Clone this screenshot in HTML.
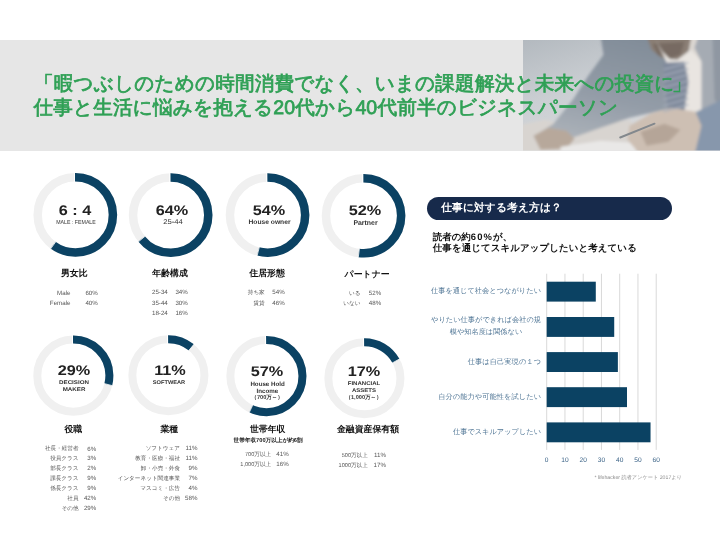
<!DOCTYPE html>
<html lang="ja"><head><meta charset="utf-8"><title>Reader profile</title>
<style>
html,body{margin:0;padding:0}
body{width:720px;height:540px;position:relative;overflow:hidden;background:#fff;text-rendering:geometricPrecision;font-family:"Liberation Sans",sans-serif;color:#222}
.abs{position:absolute}
.t{position:absolute;white-space:nowrap;line-height:1}
.j{text-align:justify;text-align-last:justify;white-space:nowrap}
.c{transform:translateX(-50%)}
.ttl{color:#2fa055;font-size:19.6px;-webkit-text-stroke:0.75px #2fa055}
.num{font-weight:bold;font-size:14px;color:#222;transform:translateX(-50%) scaleX(1.16)}
.h{font-weight:bold;font-size:8.9px;color:#111;transform:translateX(-50%)}
.s{font-size:6.2px;color:#555}
.lab{color:#4f7595;font-size:7.2px}
.tick{color:#3a6286;font-size:6.6px;transform:translateX(-50%)}
#L{position:absolute;left:0;top:0;width:720px;height:540px;will-change:transform}
</style></head><body><div id="L">
<div class="abs" style="left:0;top:40.3px;width:720px;height:110.4px;background:#e6e6e6"></div>
<svg class="abs" style="left:522.5px;top:40.3px" width="197.5" height="110.4" viewBox="0 0 197.5 110.4">
<defs>
<linearGradient id="bg" x1="0" y1="0" x2="0.6" y2="1">
<stop offset="0" stop-color="#b3b9bf"/><stop offset="0.45" stop-color="#cbcfd3"/><stop offset="1" stop-color="#dcdddf"/>
</linearGradient>
<linearGradient id="suit" x1="0.6" y1="0" x2="0.3" y2="1">
<stop offset="0" stop-color="#828d99"/><stop offset="0.55" stop-color="#939ca7"/><stop offset="1" stop-color="#adb3ba"/>
</linearGradient>
<filter id="bl" x="-10%" y="-10%" width="120%" height="120%"><feGaussianBlur stdDeviation="1.8"/></filter>
<filter id="bl2" x="-10%" y="-30%" width="120%" height="160%"><feGaussianBlur stdDeviation="0.5"/></filter>
<clipPath id="cp"><rect x="0" y="0" width="197.5" height="110.4"/></clipPath>
</defs>
<g clip-path="url(#cp)">
<rect x="0" y="0" width="197.5" height="110.4" fill="url(#bg)"/>
<g filter="url(#bl)">
<polygon fill="#d8d4d0" points="-7.5,85.7 22.5,79.7 52.5,87.7 77.5,83.7 107.5,79.7 117.5,114.7 -7.5,114.7"/>
<polygon fill="url(#suit)" points="77.5,-4.3 132.5,-4.3 143.5,21.7 141.5,40.7 148.5,67.7 128.5,72.7 106.5,77.7 89.5,83.7 77.5,87.7 52.5,96.7 25.5,102.7 10.5,96.7 30.5,83.7 50.5,58.7 64.5,36.7 80.5,14.7"/>
<polygon fill="#b7a89b" points="10.5,95.7 25.5,87.7 43.5,90.7 51.5,98.7 43.5,108.7 17.5,109.7"/>
<polygon fill="#e9e8e7" points="37.5,106.7 77.5,100.7 111.5,102.7 113.5,114.7 37.5,114.7"/>
<polygon fill="#dcd7d2" points="161.5,-4.3 181.5,-4.3 179.5,21.7 167.5,11.7"/>
<polygon fill="#8a7e74" points="123.5,-4.3 168.5,-4.3 165.5,11.7 154.5,19.7 138.5,17.7 128.5,9.7"/>
<polygon fill="#776b62" points="129.5,3.7 161.5,1.7 157.5,14.7 145.5,18.7 134.5,14.7"/>
<polygon fill="#e9e5e1" points="132.5,-0.3 139.5,11.7 147.5,19.7 154.5,19.7 167.5,9.7 179.5,21.7 179.5,71.7 167.5,72.7 148.5,68.7 141.5,40.7 143.5,21.7"/>
<polygon fill="#7f899b" points="140.5,22.7 161.5,21.7 165.5,41.7 161.5,70.7 145.5,70.7 141.5,45.7"/>
<polygon fill="#a5abb3" points="175.5,-4.3 202.5,-4.3 202.5,73.7 178.5,70.7 178.5,21.7 171.5,7.7"/>
<polygon fill="#8f97a2" points="189.5,-4.3 202.5,-4.3 202.5,69.7 191.5,59.7"/>
<polygon fill="#8797ac" points="171.5,72.7 202.5,57.7 202.5,114.7 165.5,114.7 175.5,87.7"/>
<polygon fill="#cdbfb3" points="106.5,85.7 127.5,73.7 148.5,67.7 172.5,71.7 178.5,85.7 171.5,114.7 117.5,114.7 104.5,99.7"/>
<polygon fill="#b5a598" points="117.5,91.7 141.5,83.7 157.5,89.7 145.5,101.7 123.5,105.7"/>
<line x1="140.5" y1="29.7" x2="165.5" y2="22.7" stroke="#a7afbc" stroke-width="1.2"/>
<line x1="140.5" y1="35.7" x2="165.5" y2="28.7" stroke="#a7afbc" stroke-width="1.2"/>
<line x1="140.5" y1="41.7" x2="165.5" y2="34.7" stroke="#a7afbc" stroke-width="1.2"/>
<line x1="140.5" y1="47.7" x2="165.5" y2="40.7" stroke="#a7afbc" stroke-width="1.2"/>
<line x1="140.5" y1="53.7" x2="165.5" y2="46.7" stroke="#a7afbc" stroke-width="1.2"/>
<line x1="140.5" y1="59.7" x2="165.5" y2="52.7" stroke="#a7afbc" stroke-width="1.2"/>
<line x1="140.5" y1="65.7" x2="165.5" y2="58.7" stroke="#a7afbc" stroke-width="1.2"/>
<line x1="140.5" y1="71.7" x2="165.5" y2="64.7" stroke="#a7afbc" stroke-width="1.2"/>
</g>
<line x1="97.2" y1="97.5" x2="131.5" y2="83.7" stroke="#83888d" stroke-width="2" stroke-linecap="round" filter="url(#bl2)"/>
</g></svg>

<div class="t ttl j" style="left:34px;top:74.6px;width:660px">「暇つぶしのための時間消費でなく、いまの課題解決と未来への投資に<span style="position:relative;left:-2.5px">」</span></div>
<div class="t ttl j" style="left:33.5px;top:98.6px;width:584.5px">仕事と生活に悩みを抱える20代から40代前半のビジネスパーソン</div>
<svg class="abs" style="left:0;top:0" width="720" height="540" viewBox="0 0 720 540">
<circle cx="75.3" cy="214.9" r="37.60" fill="none" stroke="#f0f0f0" stroke-width="8.5"/>
<circle cx="75.3" cy="214.9" r="37.60" fill="none" stroke="#0b4263" stroke-width="8.5" stroke-dasharray="142.10 236.25" transform="rotate(-90.53 75.3 214.9)"/>
<rect x="73.95" y="172.55" width="1" height="9.5" fill="#fff"/>
<line x1="55.99" y1="241.48" x2="50.41" y2="249.16" stroke="#fff" stroke-width="0.8"/>
<circle cx="170.65" cy="215.1" r="37.60" fill="none" stroke="#f0f0f0" stroke-width="8.5"/>
<circle cx="170.65" cy="215.1" r="37.60" fill="none" stroke="#0b4263" stroke-width="8.5" stroke-dasharray="151.55 236.25" transform="rotate(-90.53 170.65 215.1)"/>
<rect x="169.30" y="172.75" width="1" height="9.5" fill="#fff"/>
<line x1="145.34" y1="236.04" x2="138.02" y2="242.09" stroke="#fff" stroke-width="0.8"/>
<circle cx="267.55" cy="215.1" r="37.60" fill="none" stroke="#f0f0f0" stroke-width="8.5"/>
<circle cx="267.55" cy="215.1" r="37.60" fill="none" stroke="#0b4263" stroke-width="8.5" stroke-dasharray="127.92 236.25" transform="rotate(-90.53 267.55 215.1)"/>
<rect x="266.20" y="172.75" width="1" height="9.5" fill="#fff"/>
<line x1="259.38" y1="246.92" x2="257.02" y2="256.12" stroke="#fff" stroke-width="0.8"/>
<circle cx="363.55" cy="215.75" r="37.60" fill="none" stroke="#f0f0f0" stroke-width="8.5"/>
<circle cx="363.55" cy="215.75" r="37.60" fill="none" stroke="#0b4263" stroke-width="8.5" stroke-dasharray="123.20 236.25" transform="rotate(-90.53 363.55 215.75)"/>
<rect x="362.20" y="173.40" width="1" height="9.5" fill="#fff"/>
<line x1="359.43" y1="248.34" x2="358.24" y2="257.77" stroke="#fff" stroke-width="0.8"/>
<circle cx="73.35" cy="375.65" r="36.05" fill="none" stroke="#f0f0f0" stroke-width="8.0"/>
<circle cx="73.35" cy="375.65" r="36.05" fill="none" stroke="#0b4263" stroke-width="8.0" stroke-dasharray="66.04 226.51" transform="rotate(-90.56 73.35 375.65)"/>
<rect x="72.00" y="335.10" width="1" height="9.0" fill="#fff"/>
<line x1="103.91" y1="383.50" x2="112.63" y2="385.73" stroke="#fff" stroke-width="0.8"/>
<circle cx="168.4" cy="375.2" r="36.05" fill="none" stroke="#f0f0f0" stroke-width="8.0"/>
<circle cx="168.4" cy="375.2" r="36.05" fill="none" stroke="#0b4263" stroke-width="8.0" stroke-dasharray="25.27 226.51" transform="rotate(-90.56 168.4 375.2)"/>
<rect x="167.05" y="334.65" width="1" height="9.0" fill="#fff"/>
<line x1="188.51" y1="350.89" x2="194.25" y2="343.96" stroke="#fff" stroke-width="0.8"/>
<circle cx="266.4" cy="376.1" r="36.05" fill="none" stroke="#f0f0f0" stroke-width="8.0"/>
<circle cx="266.4" cy="376.1" r="36.05" fill="none" stroke="#0b4263" stroke-width="8.0" stroke-dasharray="129.46 226.51" transform="rotate(-90.56 266.4 376.1)"/>
<rect x="265.05" y="335.55" width="1" height="9.0" fill="#fff"/>
<line x1="252.97" y1="404.65" x2="249.13" y2="412.79" stroke="#fff" stroke-width="0.8"/>
<circle cx="364.4" cy="378.3" r="36.05" fill="none" stroke="#f0f0f0" stroke-width="8.0"/>
<circle cx="364.4" cy="378.3" r="36.05" fill="none" stroke="#0b4263" stroke-width="8.0" stroke-dasharray="38.86 226.51" transform="rotate(-90.56 364.4 378.3)"/>
<rect x="363.05" y="337.75" width="1" height="9.0" fill="#fff"/>
<line x1="392.05" y1="363.10" x2="399.93" y2="358.76" stroke="#fff" stroke-width="0.8"/>
<rect x="546.20" y="273.7" width="1" height="176.2" fill="#d9d9d9"/>
<rect x="564.45" y="273.7" width="1" height="176.2" fill="#d9d9d9"/>
<rect x="582.70" y="273.7" width="1" height="176.2" fill="#d9d9d9"/>
<rect x="600.95" y="273.7" width="1" height="176.2" fill="#d9d9d9"/>
<rect x="619.20" y="273.7" width="1" height="176.2" fill="#d9d9d9"/>
<rect x="637.45" y="273.7" width="1" height="176.2" fill="#d9d9d9"/>
<rect x="655.70" y="273.7" width="1" height="176.2" fill="#d9d9d9"/>
<rect x="546.70" y="281.7" width="49.09" height="19.9" fill="#0b4263"/>
<rect x="546.70" y="317" width="67.52" height="19.9" fill="#0b4263"/>
<rect x="546.70" y="352.1" width="71.17" height="19.9" fill="#0b4263"/>
<rect x="546.70" y="387.2" width="80.30" height="19.9" fill="#0b4263"/>
<rect x="546.70" y="422.4" width="103.84" height="19.9" fill="#0b4263"/>
</svg>
<div class="t num" style="left:75.1px;top:202.6px">6 : 4</div>
<div class="t num" style="left:172.1px;top:202.6px">64%</div>
<div class="t num" style="left:269.2px;top:202.6px">54%</div>
<div class="t num" style="left:365px;top:203.0px">52%</div>
<div class="t num" style="left:74.2px;top:362.8px">29%</div>
<div class="t num" style="left:169.5px;top:362.8px">11%</div>
<div class="t num" style="left:267.1px;top:364.0px">57%</div>
<div class="t num" style="left:364.2px;top:364.0px">17%</div>
<div class="t " style="left:76.4px;top:220.65px;font-size:5.7px;font-weight:normal;color:#333;transform:translateX(-50%) scaleX(0.92)">MALE : FEMALE</div>
<div class="t " style="left:172.5px;top:219.30px;font-size:7px;font-weight:normal;color:#333;transform:translateX(-50%) scaleX(1.1)">25-44</div>
<div class="t " style="left:269.5px;top:220.45px;font-size:6.7px;font-weight:bold;color:#333;transform:translateX(-50%) scaleX(1.0)">House owner</div>
<div class="t " style="left:365.5px;top:220.75px;font-size:6.9px;font-weight:bold;color:#333;transform:translateX(-50%) scaleX(1.0)">Partner</div>
<div class="t " style="left:74.3px;top:381.40px;font-size:5.4px;font-weight:bold;color:#333;transform:translateX(-50%) scaleX(1.15)">DECISION</div>
<div class="t " style="left:74.3px;top:387.80px;font-size:5.4px;font-weight:bold;color:#333;transform:translateX(-50%) scaleX(1.15)">MAKER</div>
<div class="t " style="left:169.4px;top:381.30px;font-size:5.4px;font-weight:bold;color:#333;transform:translateX(-50%) scaleX(1.05)">SOFTWEAR</div>
<div class="t " style="left:267.6px;top:381.70px;font-size:6.2px;font-weight:bold;color:#333;transform:translateX(-50%) scaleX(1.0)">House Hold</div>
<div class="t " style="left:267.3px;top:388.80px;font-size:6.2px;font-weight:bold;color:#333;transform:translateX(-50%) scaleX(1.0)">Income</div>
<div class="t " style="left:267.2px;top:395.80px;font-size:5.6px;font-weight:bold;color:#333;transform:translateX(-50%) scaleX(1.0)">（700万～）</div>
<div class="t " style="left:364.1px;top:381.90px;font-size:5.4px;font-weight:bold;color:#333;transform:translateX(-50%) scaleX(1.12)">FINANCIAL</div>
<div class="t " style="left:364.1px;top:388.90px;font-size:5.4px;font-weight:bold;color:#333;transform:translateX(-50%) scaleX(1.12)">ASSETS</div>
<div class="t " style="left:363.6px;top:395.80px;font-size:5.6px;font-weight:bold;color:#333;transform:translateX(-50%) scaleX(1.0)">（1,000万～）</div>
<div class="t h" style="left:74.2px;top:269.15px">男女比</div>
<div class="t h" style="left:170px;top:269.15px">年齢構成</div>
<div class="t h" style="left:267px;top:269.25px">住居形態</div>
<div class="t h" style="left:367.1px;top:269.75px">パートナー</div>
<div class="t h" style="left:73.3px;top:425.05px">役職</div>
<div class="t h" style="left:169.3px;top:425.05px">業種</div>
<div class="t h" style="left:267.7px;top:425.05px">世帯年収</div>
<div class="t h" style="left:368px;top:425.05px">金融資産保有額</div>
<div class="t " style="left:268.1px;top:439.4px;font-size:5.65px;font-weight:bold;color:#111;transform:translateX(-50%)">世帯年収700万以上が約6割</div>
<div class="t s" style="right:649.5px;top:291.10px">Male</div>
<div class="t s" style="right:622.2px;top:291.10px">60%</div>
<div class="t s" style="right:649.5px;top:301.10px">Female</div>
<div class="t s" style="right:622.2px;top:301.10px">40%</div>
<div class="t s" style="right:552.2px;top:290.40px">25-34</div>
<div class="t s" style="right:532.2px;top:290.40px">34%</div>
<div class="t s" style="right:552.2px;top:300.60px">35-44</div>
<div class="t s" style="right:532.2px;top:300.60px">30%</div>
<div class="t s" style="right:552.2px;top:310.80px">18-24</div>
<div class="t s" style="right:532.2px;top:310.80px">16%</div>
<div class="t s" style="right:455.3px;top:291.30px;font-size:5.6px">持ち家</div>
<div class="t s" style="right:435.3px;top:290.40px">54%</div>
<div class="t s" style="right:455.3px;top:301.50px;font-size:5.6px">賃貸</div>
<div class="t s" style="right:435.3px;top:300.60px">46%</div>
<div class="t s" style="right:359.5px;top:292.00px;font-size:5.6px">いる</div>
<div class="t s" style="right:338.8px;top:291.10px">52%</div>
<div class="t s" style="right:359.5px;top:302.00px;font-size:5.6px">いない</div>
<div class="t s" style="right:338.8px;top:301.10px">48%</div>
<div class="t s" style="right:641.5px;top:447.40px;font-size:5.6px">社長・経営者</div>
<div class="t s" style="right:623.7px;top:446.50px">6%</div>
<div class="t s" style="right:641.5px;top:457.20px;font-size:5.6px">役員クラス</div>
<div class="t s" style="right:623.7px;top:456.30px">3%</div>
<div class="t s" style="right:641.5px;top:467.20px;font-size:5.6px">部長クラス</div>
<div class="t s" style="right:623.7px;top:466.30px">2%</div>
<div class="t s" style="right:641.5px;top:477.10px;font-size:5.6px">課長クラス</div>
<div class="t s" style="right:623.7px;top:476.20px">9%</div>
<div class="t s" style="right:641.5px;top:487.10px;font-size:5.6px">係長クラス</div>
<div class="t s" style="right:623.7px;top:486.20px">9%</div>
<div class="t s" style="right:641.5px;top:497.00px;font-size:5.6px">社員</div>
<div class="t s" style="right:623.7px;top:496.10px">42%</div>
<div class="t s" style="right:641.5px;top:507.00px;font-size:5.6px">その他</div>
<div class="t s" style="right:623.7px;top:506.10px">29%</div>
<div class="t s" style="right:540.0px;top:446.80px;font-size:5.6px">ソフトウェア</div>
<div class="t s" style="right:522.6px;top:445.90px">11%</div>
<div class="t s" style="right:540.0px;top:456.70px;font-size:5.6px">教育・医療・福祉</div>
<div class="t s" style="right:522.6px;top:455.80px">11%</div>
<div class="t s" style="right:540.0px;top:466.70px;font-size:5.6px">卸・小売・外食</div>
<div class="t s" style="right:522.6px;top:465.80px">9%</div>
<div class="t s" style="right:540.0px;top:476.60px;font-size:5.6px">インターネット関連事業</div>
<div class="t s" style="right:522.6px;top:475.70px">7%</div>
<div class="t s" style="right:540.0px;top:486.60px;font-size:5.6px">マスコミ・広告</div>
<div class="t s" style="right:522.6px;top:485.70px">4%</div>
<div class="t s" style="right:540.0px;top:496.50px;font-size:5.6px">その他</div>
<div class="t s" style="right:522.6px;top:495.60px">58%</div>
<div class="t s" style="right:448.9px;top:453.00px;font-size:5.6px">700万以上</div>
<div class="t s" style="right:431.3px;top:452.10px">41%</div>
<div class="t s" style="right:448.9px;top:462.80px;font-size:5.6px">1,000万以上</div>
<div class="t s" style="right:431.3px;top:461.90px">16%</div>
<div class="t s" style="right:352.2px;top:453.90px;font-size:5.6px">500万以上</div>
<div class="t s" style="right:334.1px;top:453.00px">11%</div>
<div class="t s" style="right:352.2px;top:463.70px;font-size:5.6px">1000万以上</div>
<div class="t s" style="right:334.1px;top:462.80px">17%</div>
<div class="abs" style="left:426.6px;top:196.6px;width:245.6px;height:23.3px;border-radius:11.65px;background:#172a4b"></div>
<div class="t j" style="left:441.2px;top:203px;width:120.5px;font-size:10.7px;font-weight:bold;color:#fff">仕事に対する考え方は？</div>
<div class="t " style="left:432.8px;top:233.2px;font-size:9.45px;font-weight:bold;color:#111">読者の約<span style="letter-spacing:1.1px">60%</span>が、</div>
<div class="t j" style="left:432.8px;top:244.3px;width:204px;font-size:9.45px;font-weight:bold;color:#111">仕事を通じてスキルアップしたいと考えている</div>
<div class="t lab j" style="left:431px;top:286.8px;width:110px">仕事を通じて社会とつながりたい</div>
<div class="t lab j" style="left:431px;top:315.7px;width:110px">やりたい仕事ができれば会社の規</div>
<div class="t lab c" style="left:486px;top:328px">模や知名度は関係ない</div>
<div class="t lab j" style="right:179px;top:357.8px;width:73.3px">仕事は自己実現の１つ</div>
<div class="t lab j" style="right:179px;top:393px;width:102.7px">自分の能力や可能性を試したい</div>
<div class="t lab j" style="right:179px;top:428.2px;width:88px">仕事でスキルアップしたい</div>
<div class="t tick" style="left:546.7px;top:457.8px">0</div>
<div class="t tick" style="left:565.0px;top:457.8px">10</div>
<div class="t tick" style="left:583.2px;top:457.8px">20</div>
<div class="t tick" style="left:601.5px;top:457.8px">30</div>
<div class="t tick" style="left:619.7px;top:457.8px">40</div>
<div class="t tick" style="left:638.0px;top:457.8px">50</div>
<div class="t tick" style="left:656.2px;top:457.8px">60</div>
<div class="t " style="left:594.4px;top:476.4px;font-size:5.2px;color:#8a8a8a">* lifehacker 読者アンケート 2017より</div>
</div></body></html>
